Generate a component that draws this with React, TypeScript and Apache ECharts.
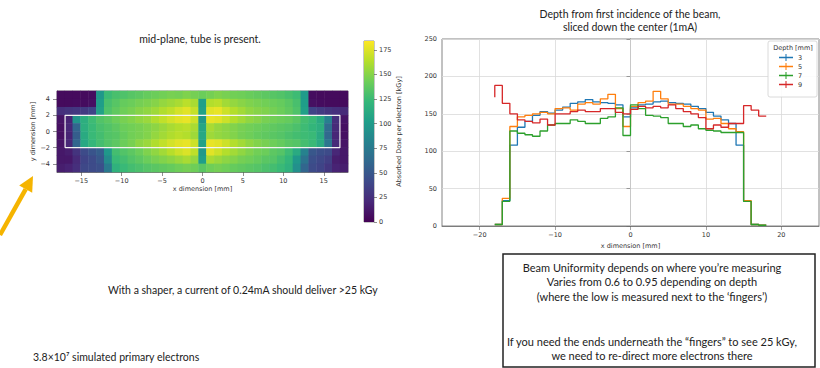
import React, { useEffect, useRef } from "react";
import * as echarts from "echarts";

// ---------- heatmap data (rows from top y=4.5 to bottom y=-4.5, 37 x-bins from -18 to 18) ----------
const VIRIDIS = ["#440154", "#482878", "#3e4989", "#31688e", "#26828e", "#1f9e89", "#35b779", "#6ece58", "#b5de2b", "#fde725"];
const HEAT_Y_LABELS = ["4.5", "3.5", "2.5", "1.5", "0.5", "-0.5", "-1.5", "-2.5", "-3.5", "-4.5"];
const heatRowY45 = [5, 5, 5, 5, 6, 98, 125, 130, 132, 135, 137, 140, 142, 144, 146, 145, 148, 145, 142, 145, 148, 146, 144, 143, 141, 139, 137, 135, 133, 130, 126, 100, 6, 5, 5, 5, 5];
const heatRowY35 = [5, 5, 6, 6, 8, 102, 130, 135, 140, 142, 145, 147, 150, 154, 157, 160, 165, 160, 103, 163, 165, 158, 154, 151, 148, 146, 144, 142, 140, 136, 130, 102, 8, 6, 5, 5, 5];
const heatRowY25 = [25, 28, 30, 32, 38, 105, 132, 138, 143, 146, 150, 153, 157, 162, 166, 172, 176, 168, 105, 176, 178, 170, 163, 158, 153, 150, 148, 145, 142, 138, 132, 104, 38, 32, 28, 25, 22];
const heatRowY15 = [10, 18, 95, 115, 126, 133, 137, 142, 146, 149, 153, 156, 162, 167, 172, 176, 178, 170, 98, 178, 176, 170, 163, 158, 153, 150, 146, 144, 142, 140, 136, 128, 124, 112, 80, 25, 10];
const heatRowY05 = [8, 20, 60, 115, 124, 130, 133, 137, 142, 144, 146, 149, 152, 156, 160, 163, 165, 160, 108, 160, 155, 152, 149, 146, 144, 142, 140, 138, 136, 134, 131, 126, 121, 115, 65, 22, 8];
const heatRowYm05 = [8, 18, 55, 112, 124, 128, 133, 135, 140, 144, 146, 149, 154, 158, 162, 165, 163, 157, 110, 157, 154, 152, 149, 145, 143, 140, 138, 136, 134, 131, 128, 126, 124, 112, 62, 20, 8];
const heatRowYm15 = [10, 20, 60, 110, 122, 128, 133, 137, 142, 146, 152, 156, 162, 167, 172, 176, 178, 170, 105, 178, 176, 170, 163, 158, 153, 149, 146, 143, 140, 136, 134, 128, 124, 112, 72, 22, 10];
const heatRowYm25 = [12, 15, 28, 42, 48, 55, 98, 128, 133, 137, 142, 148, 153, 158, 164, 170, 174, 166, 98, 176, 170, 163, 158, 153, 148, 144, 142, 137, 134, 126, 112, 82, 50, 45, 42, 20, 12];
const heatRowYm35 = [12, 12, 22, 38, 42, 50, 88, 124, 128, 133, 137, 142, 146, 149, 152, 156, 160, 154, 102, 160, 156, 152, 149, 145, 143, 140, 136, 134, 128, 121, 98, 70, 45, 40, 35, 15, 12];
const heatRowYm45 = [15, 18, 25, 40, 42, 45, 75, 118, 124, 128, 131, 134, 136, 138, 140, 143, 145, 143, 136, 143, 145, 143, 140, 138, 136, 134, 131, 128, 124, 118, 92, 60, 42, 38, 30, 18, 15];
const HEAT_ROWS = [heatRowY45, heatRowY35, heatRowY25, heatRowY15, heatRowY05, heatRowYm05, heatRowYm15, heatRowYm25, heatRowYm35, heatRowYm45];
const HEAT_X_RANGE = [-18, 18];
const HEAT_Y_RANGE = [-5, 5];
const HEAT_X_TICKS = [-15, -10, -5, 0, 5, 10, 15];
const HEAT_Y_TICKS = [-4, -2, 0, 2, 4];
const BOX_X = [-17, 17];
const BOX_Y = [-2, 2];
const DOSE_MAX = 184;
const COLORBAR_STEP = 25;

// ---------- depth profile data (bins of 1 mm, edges -18..18) ----------
const X_EDGES = [-18, -17, -16, -15, -14, -13, -12, -11, -10, -9, -8, -7, -6, -5, -4, -3, -2, -1, 0, 1, 2, 3, 4, 5, 6, 7, 8, 9, 10, 11, 12, 13, 14, 15, 16, 17, 18];
const DEPTHS = ["3", "5", "7", "9"];
const dose3 = [2, 34, 108, 132, 140, 148, 153, 151, 155, 159, 164, 166, 169, 166, 165, 164, 162, 146, 158, 162, 163, 166, 167, 165, 164, 163, 160, 157, 152, 147, 142, 137, 108, 33, 2, 1];
const dose5 = [2, 37, 133, 146, 148, 150, 152, 150, 157, 158, 155, 163, 165, 163, 170, 176, 157, 133, 160, 165, 167, 180, 170, 163, 163, 160, 157, 155, 143, 144, 137, 130, 126, 34, 2, 1];
const dose7 = [2, 33, 127, 124, 122, 120, 127, 135, 137, 137, 142, 140, 137, 137, 144, 146, 158, 121, 162, 157, 148, 147, 145, 137, 137, 133, 135, 130, 128, 127, 125, 125, 125, 33, 2, 1];
const dose9 = [188, 164, 150, 142, 140, 138, 143, 135, 150, 150, 153, 155, 153, 153, 157, 157, 152, 150, 156, 160, 158, 160, 158, 162, 157, 153, 150, 145, 130, 135, 132, 137, 137, 161, 155, 147];
const DOSE9_START = 172;
const DEPTH_COLORS = ["#1f77b4", "#ff7f0e", "#2ca02c", "#d62728"];
const LINE_X_RANGE = [-25, 25];
const LINE_X_TICKS = [-20, -10, 0, 10, 20];
const LINE_Y_RANGE = [0, 250];
const LINE_Y_STEP = 50;

const MINUS = (v: number) => (v < 0 ? "\u2212" + Math.abs(v) : String(v));
const TICK_FONT = "DejaVu Sans";
const SLIDE_FONT = "Lato";

function stepPoints(vals: number[], start?: number) {
  const pts: number[][] = [];
  if (start !== undefined) pts.push([X_EDGES[0], start]);
  vals.forEach((v, i) => pts.push([X_EDGES[i], v]));
  pts.push([X_EDGES[X_EDGES.length - 1], vals[vals.length - 1]]);
  return pts;
}

export default function App() {
  const ref = useRef<HTMLDivElement>(null);
  useEffect(() => {
    if (!ref.current) return;
    const chart = echarts.init(ref.current, undefined, { renderer: "svg" });

    const nRows = HEAT_ROWS.length;
    const heatData: number[][] = [];
    HEAT_ROWS.forEach((row, r) => row.forEach((v, c) => heatData.push([c, nRows - 1 - r, v])));
    const xCats = HEAT_ROWS[0].map((_, i) => String(i));
    const yCats = [...HEAT_Y_LABELS].reverse();
    const boxData = [
      [BOX_X[0], BOX_Y[0]],
      [BOX_X[1], BOX_Y[0]],
      [BOX_X[1], BOX_Y[1]],
      [BOX_X[0], BOX_Y[1]],
      [BOX_X[0], BOX_Y[0]],
    ];
    const doseSeries = [dose3, dose5, dose7, dose9];

    const tickLabel = { fontFamily: TICK_FONT, fontSize: 6.5, color: "#333" };
    const plusIcon = "path://M0,4H20V6H0Z M9.25,0H10.75V10H9.25Z";

    const option: any = {
      animation: false,
      backgroundColor: "#fff",
      grid: [
        { left: 57, top: 91, width: 291, height: 81, show: true, borderColor: "#444", borderWidth: 0.6, backgroundColor: "transparent" },
        { left: 442, top: 39, width: 377, height: 187, show: true, borderColor: "#666", borderWidth: 0.8, backgroundColor: "transparent" },
        { left: 364, top: 41, width: 10, height: 181, show: true, borderColor: "#444", borderWidth: 0.6, backgroundColor: "transparent" },
      ],
      visualMap: {
        show: false,
        type: "continuous",
        min: 0,
        max: DOSE_MAX,
        seriesIndex: 0,
        inRange: { color: VIRIDIS },
      },
      xAxis: [
        { type: "category", gridIndex: 0, data: xCats, show: false },
        {
          type: "value",
          gridIndex: 0,
          min: HEAT_X_RANGE[0],
          max: HEAT_X_RANGE[1],
          position: "bottom",
          axisLine: { show: true, onZero: false, lineStyle: { color: "#444", width: 0.6 } },
          axisTick: { show: true, length: 4, customValues: HEAT_X_TICKS, lineStyle: { color: "#444", width: 0.6 } },
          axisLabel: { ...tickLabel, margin: 5, customValues: HEAT_X_TICKS, formatter: MINUS },
          splitLine: { show: false },
          name: "x dimension [mm]",
          nameLocation: "middle",
          nameGap: 13,
          nameTextStyle: { ...tickLabel },
        },
        {
          type: "value",
          gridIndex: 1,
          min: LINE_X_RANGE[0],
          max: LINE_X_RANGE[1],
          axisLine: { show: true, onZero: false, lineStyle: { color: "#666", width: 0.8 } },
          axisTick: { show: true, length: 4, customValues: LINE_X_TICKS, lineStyle: { color: "#666", width: 0.6 } },
          axisLabel: { ...tickLabel, margin: 5, customValues: LINE_X_TICKS, formatter: MINUS },
          splitLine: { show: false },
          name: "x dimension [mm]",
          nameLocation: "middle",
          nameGap: 15,
          nameTextStyle: { ...tickLabel },
        },
        { type: "category", gridIndex: 2, data: ["c"], show: false },
      ],
      yAxis: [
        { type: "category", gridIndex: 0, data: yCats, show: false },
        {
          type: "value",
          gridIndex: 0,
          min: HEAT_Y_RANGE[0],
          max: HEAT_Y_RANGE[1],
          position: "left",
          axisLine: { show: true, onZero: false, lineStyle: { color: "#444", width: 0.6 } },
          axisTick: { show: true, length: 4, customValues: HEAT_Y_TICKS, lineStyle: { color: "#444", width: 0.6 } },
          axisLabel: { ...tickLabel, margin: 7, customValues: HEAT_Y_TICKS, formatter: MINUS },
          splitLine: { show: false },
          name: "y dimension [mm]",
          nameLocation: "middle",
          nameRotate: 90,
          nameGap: 17,
          nameTextStyle: { ...tickLabel },
        },
        {
          type: "value",
          gridIndex: 1,
          min: LINE_Y_RANGE[0],
          max: LINE_Y_RANGE[1],
          interval: LINE_Y_STEP,
          axisLine: { show: true, lineStyle: { color: "#666", width: 0.8 } },
          axisTick: { show: true, length: 4, lineStyle: { color: "#666", width: 0.6 } },
          axisLabel: { ...tickLabel, margin: 5 },
          splitLine: { show: true, lineStyle: { color: "#d9d9d9", width: 0.8 } },
        },
        {
          type: "value",
          gridIndex: 2,
          position: "right",
          min: 0,
          max: DOSE_MAX,
          interval: COLORBAR_STEP,
          axisLine: { show: false },
          axisTick: { show: true, length: 3, lineStyle: { color: "#444", width: 0.6 } },
          axisLabel: { ...tickLabel, margin: 5, showMaxLabel: false },
          splitLine: { show: false },
          name: "Absorbed Dose per electron [kGy]",
          nameLocation: "middle",
          nameRotate: 90,
          nameGap: 20,
          nameTextStyle: { ...tickLabel },
        },
      ],
      legend: {
        data: DEPTHS.map((d) => ({ name: d, icon: plusIcon })),
        orient: "vertical",
        left: 779,
        top: 54,
        itemWidth: 14,
        itemHeight: 8,
        itemGap: 2,
        padding: 0,
        z: 20,
        textStyle: { fontFamily: TICK_FONT, fontSize: 6.5, color: "#333", padding: [0, 0, 0, 0] },
      },
      series: [
        {
          type: "heatmap",
          xAxisIndex: 0,
          yAxisIndex: 0,
          data: heatData,
          silent: true,
          itemStyle: { borderWidth: 0 },
        },
        {
          type: "line",
          xAxisIndex: 1,
          yAxisIndex: 1,
          data: boxData,
          showSymbol: false,
          silent: true,
          z: 5,
          lineStyle: { color: "#f4f4f4", width: 1.2 },
        },
        ...doseSeries.map((vals, i) => ({
          type: "line",
          name: DEPTHS[i],
          xAxisIndex: 2,
          yAxisIndex: 2,
          step: "end",
          showSymbol: false,
          data: stepPoints(vals, i === 3 ? DOSE9_START : undefined),
          color: DEPTH_COLORS[i],
          lineStyle: { color: DEPTH_COLORS[i], width: 1.3 },
          markLine:
            i === 0
              ? {
                  silent: true,
                  symbol: "none",
                  label: { show: false },
                  lineStyle: { color: "#d9d9d9", width: 0.8, type: "solid" },
                  data: LINE_X_TICKS.map((x) => ({ xAxis: x })),
                  z: 1,
                }
              : undefined,
        })),
        {
          type: "bar",
          xAxisIndex: 3,
          yAxisIndex: 3,
          data: [DOSE_MAX],
          barWidth: "100%",
          silent: true,
          itemStyle: {
            color: new echarts.graphic.LinearGradient(
              0, 1, 0, 0,
              VIRIDIS.map((c, i) => ({ offset: i / (VIRIDIS.length - 1), color: c }))
            ),
          },
        },
      ],
      graphic: [
        { type: "text", x: 200, y: 39, style: { text: "mid-plane, tube is present.", font: `10.5px ${SLIDE_FONT}`, fill: "#222", align: "center", verticalAlign: "middle" } },
        { type: "text", x: 630, y: 14, style: { text: "Depth from first incidence of the beam,", font: `10.5px ${SLIDE_FONT}`, fill: "#222", align: "center", verticalAlign: "middle" } },
        { type: "text", x: 630, y: 27, style: { text: "sliced down the center (1mA)", font: `10.5px ${SLIDE_FONT}`, fill: "#222", align: "center", verticalAlign: "middle" } },
        { type: "text", x: 108, y: 290, style: { text: "With a shaper, a current of 0.24mA should deliver >25 kGy", font: `10.5px ${SLIDE_FONT}`, fill: "#222", align: "left", verticalAlign: "middle" } },
        { type: "text", x: 33, y: 357, style: { text: "3.8×10⁷ simulated primary electrons", font: `10.5px ${SLIDE_FONT}`, fill: "#222", align: "left", verticalAlign: "middle" } },
        { type: "rect", shape: { x: 503, y: 254, width: 312, height: 113 }, style: { fill: "none", stroke: "#222", lineWidth: 1.5 } },
        { type: "text", x: 652, y: 267, style: { text: "Beam Uniformity depends on where you’re measuring", font: `11px ${SLIDE_FONT}`, fill: "#222", align: "center", verticalAlign: "middle" } },
        { type: "text", x: 652, y: 281, style: { text: "Varies from 0.6 to 0.95 depending on depth", font: `11px ${SLIDE_FONT}`, fill: "#222", align: "center", verticalAlign: "middle" } },
        { type: "text", x: 652, y: 296, style: { text: "(where the low is measured next to the ‘fingers’)", font: `11px ${SLIDE_FONT}`, fill: "#222", align: "center", verticalAlign: "middle" } },
        { type: "text", x: 652, y: 341, style: { text: "If you need the ends underneath the “fingers” to see 25 kGy,", font: `11px ${SLIDE_FONT}`, fill: "#222", align: "center", verticalAlign: "middle" } },
        { type: "text", x: 652, y: 355, style: { text: "we need to re-direct more electrons there", font: `11px ${SLIDE_FONT}`, fill: "#222", align: "center", verticalAlign: "middle" } },
        { type: "rect", z: 15, shape: { x: 768, y: 41, width: 49, height: 56, r: 2 }, style: { fill: "rgba(255,255,255,0.9)", stroke: "#d0d0d0", lineWidth: 0.8 } },
        { type: "text", z: 16, x: 793, y: 48, style: { text: "Depth [mm]", font: `6.5px ${TICK_FONT}`, fill: "#333", align: "center", verticalAlign: "middle" } },
        { type: "line", shape: { x1: 0, y1: 235, x2: 25.7, y2: 189.1 }, style: { stroke: "#f5b400", lineWidth: 4.5 } },
        { type: "polygon", shape: { points: [[33, 176], [32.2, 192.8], [19.2, 185.4]] }, style: { fill: "#f5b400" } },
      ],
    };
    chart.setOption(option);
    return () => chart.dispose();
  }, []);
  return (
    <div
      ref={ref}
      style={{ position: "fixed", left: 0, top: 0, width: 820, height: 368, background: "#fff" }}
    />
  );
}
